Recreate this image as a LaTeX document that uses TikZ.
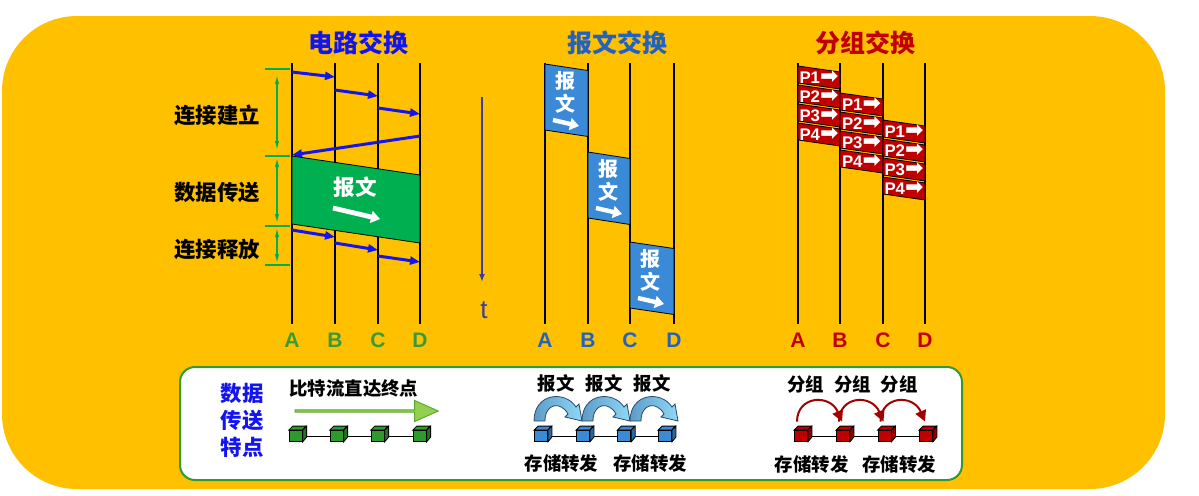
\documentclass[tikz,border=0pt]{standalone}
\usepackage{fontspec}
\setmainfont{Noto Sans CJK SC}
\newfontfamily\latin{Liberation Sans}
\newfontfamily\symb{DejaVu Sans}
\usetikzlibrary{arrows.meta,positioning,calc,shapes.arrows}
\definecolor{panelgold}{HTML}{FFC000}
\definecolor{circblue}{HTML}{1414F0}
\definecolor{msgblue}{HTML}{2462C0}
\definecolor{pktred}{HTML}{C00000}
\definecolor{datagreen}{HTML}{00B050}
\definecolor{labelgreen}{HTML}{3A9A3A}
\definecolor{timeblue}{HTML}{3C3CA0}
\definecolor{boxblue}{HTML}{3A8AD8}
\definecolor{framegreen}{HTML}{339933}
\definecolor{flowgreen}{HTML}{92D050}
\definecolor{flowedge}{HTML}{5FA832}
\definecolor{hopdark}{HTML}{5E9CC8}
\definecolor{hoplight}{HTML}{8ED8F8}
\definecolor{hopedge}{HTML}{2E4A66}
\definecolor{cubegreen}{HTML}{2E9A2E}

\begin{document}
\begin{tikzpicture}[
    x=0.5pt, y=-0.5pt,
    title/.style={font=\bfseries\fontsize{12.5}{15}\selectfont, inner sep=1pt},
    lbl/.style={font=\latin\bfseries\fontsize{10.5}{12}\selectfont, inner sep=1pt},
    phase/.style={font=\bfseries\fontsize{10.7}{13}\selectfont, inner sep=1pt},
    lifeline/.style={line width=0.6pt, draw=black},
    sig/.style={line width=1.5pt, draw=circblue, -{Triangle[length=5pt,width=4pt]}},
    tick/.style={line width=0.6pt, draw=datagreen},
    span/.style={line width=0.6pt, draw=datagreen, {Latex[length=4.5pt,width=2.2pt]}-{Latex[length=4.5pt,width=2.2pt]}},
    timeaxis/.style={line width=0.8pt, draw=timeblue, -{Latex[length=4pt,width=3pt]}},
    whitearrow/.style={line width=2.4pt, draw=white, -{Triangle[length=4.5pt,width=6pt]}},
    msgtext/.style={font=\bfseries\fontsize{10}{11.5}\selectfont, text=white, align=center, inner sep=0pt},
    pkttext/.style={font=\latin\bfseries\fontsize{8.4}{9}\selectfont, text=white, inner sep=0pt},
    note/.style={font=\bfseries\fontsize{9.2}{11}\selectfont, inner sep=1pt},
    cube/.style={draw=black, line width=0.4pt, inner sep=0pt, minimum width=6.5pt, minimum height=5.5pt},
    chain/.style={line width=0.5pt, draw=black},
    redhop/.style={line width=1pt, draw=pktred!85!black, -{Triangle[length=5.5pt,width=5.5pt]}},
    bluehop/.pic={
      \path[draw=hopedge, line width=0.4pt, left color=hopdark, right color=hoplight]
        (0,0) .. controls (0,-28) and (31,-31) .. (42,-14) -- (45,-17) -- (48,0)
        -- (31,-4) -- (34,-7) .. controls (27,-20) and (11,-18) .. (11,0) -- cycle;
    }
  ]
  \useasboundingbox (0,0) rectangle (1199,495);
  % panels
  \fill[panelgold, rounded corners=37.5pt] (2,16) rectangle (1165,489);
  \draw[framegreen, line width=1pt, fill=white, rounded corners=7.5pt] (180,367) rectangle (962,480);

  % titles
  \node[title, text=circblue] (ctitle) at (358,43) {电路交换};
  \node[title, text=msgblue] (mtitle) at (617,43) {报文交换};
  \node[title, text=pktred] (ptitle) at (865,43) {分组交换};

  % circuit switching
  \foreach \n/\x in {A/292,B/335,C/378,D/420} {
    \coordinate (c\n) at (\x,63);
    \coordinate (c\n end) at (\x,324);
    \draw[lifeline] (c\n) -- (c\n end);
    \node[lbl, text=labelgreen] (cl\n) at (\x,340) {\n};
  }
  \draw[sig] ($(cA)+(0,9)$) -- ($(cB)+(0,14)$);
  \draw[sig] ($(cB)+(0,27)$) -- ($(cC)+(0,33)$);
  \draw[sig] ($(cC)+(0,45)$) -- ($(cD)+(0,51)$);
  \draw[sig] ($(cD)+(0,73)$) -- ($(cA)+(0,92)$);
  \fill[datagreen, draw=black, line width=0.4pt] ($(cA)+(0,93)$) -- ($(cD)+(0,112)$) -- ($(cD)+(0,180)$) -- ($(cA)+(0,161)$) -- cycle;
  \node[msgtext, font=\bfseries\fontsize{10.8}{13}\selectfont] (cmsg) at (355,187) {报文};
  \draw[whitearrow] ($(cmsg)+(-22,21)$) -- ($(cmsg)+(25,32)$);
  \draw[sig] ($(cA)+(0,167)$) -- ($(cB)+(0,174)$);
  \draw[sig] ($(cB)+(0,180)$) -- ($(cC)+(0,187)$);
  \draw[sig] ($(cC)+(0,193)$) -- ($(cD)+(0,199)$);

  % phase brackets
  \foreach \y [count=\i] in {69,156,226,265} {
    \coordinate (k\i) at (277,\y);
    \draw[tick] (265,\y) -- (290,\y);
  }
  \draw[span, shorten <=3pt, shorten >=3pt] (k1) -- (k2);
  \draw[span, shorten <=1pt, shorten >=1.5pt] (k2) -- (k3);
  \draw[span, shorten <=1pt, shorten >=1pt] (k3) -- (k4);
  \node[phase] (setup) at (217,115) {连接建立};
  \node[phase] (transfer) at (217,192) {数据传送};
  \node[phase] (release) at (217,249) {连接释放};

  % time axis
  \coordinate (t0) at (482,97);
  \coordinate (t1) at (482,282);
  \draw[timeaxis] (t0) -- (t1);
  \node[font=\latin\fontsize{13}{15}\selectfont, text=timeblue] (tlbl) at (484,310) {t};

  % message switching
  \foreach \n/\x in {A/545,B/588,C/630,D/674} {
    \coordinate (m\n) at (\x,63);
    \coordinate (m\n end) at (\x,324);
    \draw[lifeline] (m\n) -- (m\n end);
    \node[lbl, text=msgblue] (ml\n) at (\x,340) {\n};
  }
  \foreach \xl/\xr/\yt [count=\i] in {545/588/64, 588/630/152, 630/674/242} {
    \fill[boxblue, draw=black, line width=0.4pt] (\xl,\yt) -- (\xr,\yt+6.5) -- (\xr,\yt+72.5) -- (\xl,\yt+66) -- cycle;
    \node[msgtext] (msg\i) at (\xl+20,\yt+28) {报\\文};
    \draw[whitearrow, line width=2.2pt] (\xl+8,\yt+56) -- (\xl+34,\yt+62);
  }

  % packet switching
  \foreach \n/\x in {A/798,B/840,C/883,D/925} {
    \coordinate (p\n) at (\x,63);
    \coordinate (p\n end) at (\x,324);
    \draw[lifeline] (p\n) -- (p\n end);
    \node[lbl, text=pktred] (pl\n) at (\x,340) {\n};
  }
  \foreach \h/\xl/\xr in {0/798/840, 1/840/883, 2/883/925} {
    \foreach \k in {1,...,4} {
      \pgfmathsetmacro\yt{66+27*\h+19*(\k-1)}
      \fill[pktred, draw=black, line width=0.4pt] (\xl,\yt) -- (\xr,\yt+6) -- (\xr,\yt+23) -- (\xl,\yt+17) -- cycle;
      \node[pkttext] (pkt\h\k) at ({(\xl+\xr)/2},\yt+11) {P\k{\symb\fontsize{11}{9}\selectfont ➡}};
    }
  }

  % transfer features
  \node[font=\bfseries\fontsize{10.7}{13.5}\selectfont, text=circblue, align=center, inner sep=0pt] (feat) at (242,420) {数据\\传送\\特点};
  \node[note, anchor=west] (bitflow) at (287,388) {比特流直达终点};
  \node[single arrow, fill=flowgreen, draw=flowedge, line width=0.5pt, minimum height=71.5pt, minimum width=10.5pt,
        single arrow head extend=2.25pt, single arrow tip angle=48, inner sep=0pt] (flow) at (365.5,411) {};

  \foreach \x [count=\i] in {295.7,336.7,377.7,419.7} {
    \node[cube, fill=cubegreen] (g\i) at (\x,436) {};
    \filldraw[fill=cubegreen, line width=0.4pt] (g\i.north west) -- ++(4,-4) -- ++(13,0) -- (g\i.north east) -- cycle;
    \filldraw[fill=cubegreen!75!black, line width=0.4pt] (g\i.north east) -- ++(4,-4) -- ++(0,11) -- (g\i.south east) -- cycle;
  }
  \foreach \x [count=\i] in {541,583,624.3,665} {
    \node[cube, fill=boxblue] (b\i) at (\x,436) {};
    \filldraw[fill=boxblue, line width=0.4pt] (b\i.north west) -- ++(4,-4) -- ++(13,0) -- (b\i.north east) -- cycle;
    \filldraw[fill=boxblue!75!black, line width=0.4pt] (b\i.north east) -- ++(4,-4) -- ++(0,11) -- (b\i.south east) -- cycle;
  }
  \foreach \x [count=\i] in {801,843,884.5,926} {
    \node[cube, fill=pktred] (r\i) at (\x,436) {};
    \filldraw[fill=pktred, line width=0.4pt] (r\i.north west) -- ++(4,-4) -- ++(13,0) -- (r\i.north east) -- cycle;
    \filldraw[fill=pktred!75!black, line width=0.4pt] (r\i.north east) -- ++(4,-4) -- ++(0,11) -- (r\i.south east) -- cycle;
  }
  \foreach \i/\j in {1/2,2/3,3/4} {
    \draw[chain] (g\i.east) ++(4,0) -- (g\j.west);
    \draw[chain] (b\i.east) ++(4,0) -- (b\j.west);
    \draw[chain] (r\i.east) ++(4,0) -- (r\j.west);
  }

  % store and forward
  \foreach \x [count=\i] in {534,582,630} {
    \pic at (\x,421) {bluehop};
  }
  \foreach \x [count=\i] in {556,604,652} {
    \node[note] (mtag\i) at (\x,383) {报文};
  }
  \node[note] (mstore1) at (561.5,463) {存储转发};
  \node[note] (mstore2) at (650,463) {存储转发};

  \foreach \i/\j in {1/2,2/3,3/4} {
    \draw[redhop] ($(r\i.north)+(-4,-8.5)$) .. controls +(0,-26) and +(-12,-28) .. ($(r\j.north)+(-1,-8.5)$);
  }
  \foreach \x [count=\i] in {805.7,852.5,899} {
    \node[note] (ptag\i) at (\x,384) {分组};
  }
  \node[note] (pstore1) at (811.7,464) {存储转发};
  \node[note] (pstore2) at (899,464) {存储转发};
\end{tikzpicture}
\end{document}
